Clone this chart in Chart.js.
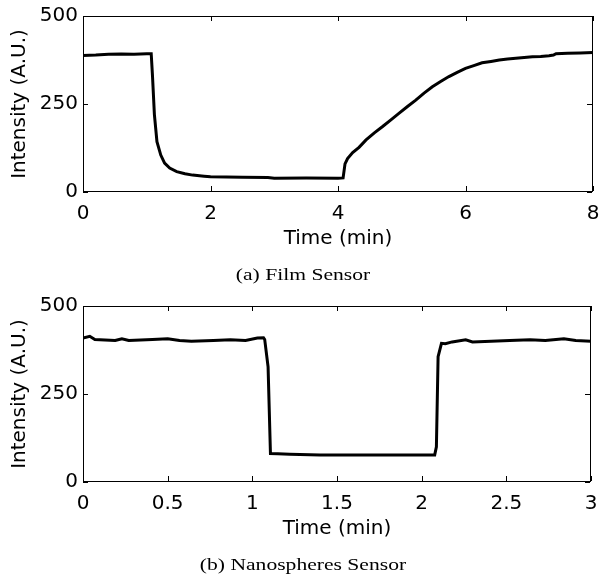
<!DOCTYPE html>
<html>
<head>
<meta charset="utf-8">
<script src="https://cdn.jsdelivr.net/npm/chart.js@4"></script>
<style>
  body { margin: 0; background: #fff; }
  .box { position: relative; width: 600px; }
</style>
</head>
<body>
<div class="box" style="height:290px"><canvas id="filmChart"></canvas></div>
<div class="box" style="height:288px"><canvas id="nanoChart"></canvas></div>
<script>
// (a) film sensor
const filmTime = [0, 0.2, 0.4, 0.6, 0.8, 1.0, 1.07, 1.09, 1.12, 1.16, 1.22, 1.28, 1.36, 1.47, 1.6, 1.72,
  1.9, 2.0, 2.5, 2.9, 3.0, 3.5, 4.0, 4.08, 4.11, 4.15, 4.23, 4.33, 4.44, 4.57, 4.70, 4.83, 4.96, 5.09,
  5.22, 5.35, 5.48, 5.61, 5.74, 5.87, 6.0, 6.13, 6.26, 6.4, 6.53, 6.66, 6.79, 6.92, 7.05, 7.18, 7.31,
  7.38, 7.42, 7.6, 7.8, 8.0];
const filmIntensity = [388, 389, 391, 392, 391, 393, 393, 330, 220, 143, 105, 82, 68, 58, 52, 48,
  45, 43, 42, 41, 39, 40, 39, 40, 80, 95, 112, 127, 148, 168, 186, 205, 224, 243,
  261, 281, 299, 314, 328, 340, 351, 359, 367, 371, 375, 378, 380, 382, 384, 385, 387,
  389, 393, 394, 395, 396];

// (b) nanospheres sensor
const nanoTime = [0, 0.04, 0.07, 0.19, 0.23, 0.27, 0.41, 0.5, 0.57, 0.64, 0.77, 0.87, 0.96, 1.03,
  1.066, 1.073, 1.093, 1.107, 1.15, 1.221, 1.4, 1.8, 2.077, 2.087, 2.097, 2.117, 2.14, 2.18, 2.26,
  2.30, 2.41, 2.52, 2.64, 2.73, 2.84, 2.91, 3.0];
const nanoIntensity = [409, 414, 405, 402, 407, 402, 405, 407, 402, 400, 402, 404, 402, 409,
  410, 405, 327, 81, 80, 79, 77, 77, 77, 100, 356, 394, 393, 398, 404,
  398, 400, 402, 404, 402, 407, 402, 400];

const filmTicks = [0, 2, 4, 6, 8];
const nanoTicks = [0, 0.5, 1, 1.5, 2, 2.5, 3];
const intensityTicks = [0, 250, 500];

Chart.defaults.font.family = 'DejaVu Sans';
Chart.defaults.font.size = 20;
Chart.defaults.color = '#000';

// MATLAB style box with inward ticks on all four sides
const frame = {
  id: 'frame',
  afterDraw(chart) {
    const {ctx, chartArea: a, scales: {x, y}} = chart;
    const L = Math.round(a.left), R = Math.round(a.right) - 1;
    const T = Math.round(a.top), B = Math.round(a.bottom) - 1;
    ctx.save();
    ctx.setLineDash([]);
    ctx.globalAlpha = 1;
    ctx.fillStyle = '#000';
    ctx.fillRect(L, T, R - L + 1, 1);
    ctx.fillRect(L, B, R - L + 1, 1);
    ctx.fillRect(L, T, 1, B - T + 1);
    ctx.fillRect(R, T, 1, B - T + 1);
    x.ticks.forEach(t => {
      const px = Math.round(x.getPixelForValue(t.value));
      ctx.fillRect(px, B - 5, 1, 5);
      ctx.fillRect(px, T, 1, 5);
    });
    y.ticks.forEach(t => {
      const py = Math.round(y.getPixelForValue(t.value));
      ctx.fillRect(L, py, 5, 1);
      ctx.fillRect(R - 5, py, 5, 1);
    });
    ctx.restore();
  }
};

// sub-figure caption in a serif face
const caption = {
  id: 'caption',
  afterDraw(chart, args, opts) {
    const ctx = chart.ctx;
    ctx.save();
    ctx.font = '17px "Liberation Serif"';
    ctx.fillStyle = '#000';
    ctx.textAlign = 'center';
    ctx.textBaseline = 'middle';
    ctx.translate(303, opts.y);
    ctx.scale(1.27, 1);
    ctx.fillText(opts.text, 0, 0);
    ctx.restore();
  }
};

function makeChart(id, times, values, xTicks, xMax, rightPad, bottomPad, text) {
  return new Chart(document.getElementById(id), {
    type: 'line',
    data: {
      datasets: [{
        data: times.map((t, i) => ({x: t, y: values[i]})),
        borderColor: '#000',
        borderWidth: 3,
        pointRadius: 0,
        tension: 0
      }]
    },
    options: {
      responsive: true,
      maintainAspectRatio: false,
      animation: false,
      layout: { padding: { top: 16, right: rightPad, bottom: bottomPad, left: 0 } },
      plugins: {
        legend: { display: false },
        tooltip: { enabled: false },
        caption: { text: text, y: 276 }
      },
      scales: {
        x: {
          type: 'linear',
          min: 0,
          max: xMax,
          grid: { display: false, drawTicks: false },
          border: { display: false },
          afterBuildTicks: s => { s.ticks = xTicks.map(v => ({value: v})); },
          afterFit: s => { s.height = 260 - 192; s.paddingLeft = 0; s.paddingRight = 0; },
          ticks: { padding: 10, maxRotation: 0, callback: v => String(v) },
          title: { display: true, text: 'Time (min)', padding: { top: 0, bottom: 9 } }
        },
        y: {
          min: 0,
          max: 500,
          grid: { display: false, drawTicks: false },
          border: { display: false },
          afterBuildTicks: s => { s.ticks = intensityTicks.map(v => ({value: v})); },
          afterFit: s => { s.width = 83; s.paddingTop = 0; s.paddingBottom = 0; },
          ticks: { padding: 5 },
          title: { display: true, text: 'Intensity (A.U.)', padding: { top: 8, bottom: 0 } }
        }
      }
    },
    plugins: [frame, caption]
  });
}

makeChart('filmChart', filmTime, filmIntensity, filmTicks, 8, 7, 30, '(a) Film Sensor');
makeChart('nanoChart', nanoTime, nanoIntensity, nanoTicks, 3, 9, 28, '(b) Nanospheres Sensor');
</script>
</body>
</html>
